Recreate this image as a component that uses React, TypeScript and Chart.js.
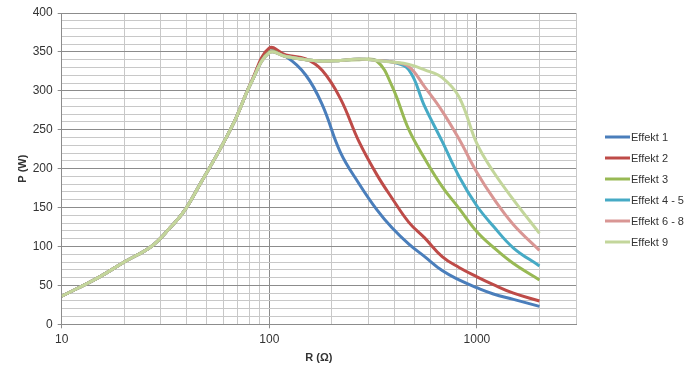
import React, { useEffect, useRef } from "react";
import { Chart, registerables } from "chart.js";

Chart.register(...registerables);

// Resistance values (Ω)
const resistance = [10, 15, 20, 27, 33, 39, 47, 56, 68, 82, 100, 120, 150, 180, 220, 270, 330, 390, 470, 560, 680, 820, 1000, 1200, 1500, 2000];

// Power values (W)
const effekt1 = [36, 60, 80, 100, 123, 146, 183, 218, 261, 311, 350, 344, 320, 282, 221, 181, 147, 124, 103, 87, 69, 57, 47, 39, 32, 23];
const effekt2 = [36, 60, 80, 100, 123, 146, 183, 218, 261, 312, 355, 346, 341, 326, 290, 235, 192, 162, 131, 111, 87, 73, 61, 51, 40, 30];
const effekt3 = [36, 60, 80, 100, 123, 146, 183, 218, 261, 311, 350, 344, 340, 338, 339, 340, 338, 306, 250, 213, 177, 149, 119, 99, 78, 57];
const effekt45 = [36, 60, 80, 100, 123, 146, 183, 218, 261, 311, 349, 344, 340, 338, 339, 341, 339, 337, 327, 280, 235, 190, 152, 126, 98, 75];
const effekt68 = [36, 60, 80, 100, 123, 146, 183, 218, 261, 311, 349, 344, 340, 338, 339, 341, 339, 337, 331, 305, 274, 238, 195, 162, 128, 95];
const effekt9 = [36, 60, 80, 100, 123, 146, 183, 218, 261, 311, 349, 344, 340, 338, 339, 341, 339, 337, 334, 327, 317, 292, 232, 196, 160, 117];

const seriesNames = ["Effekt 1", "Effekt 2", "Effekt 3", "Effekt 4 - 5", "Effekt 6 - 8", "Effekt 9"];
const seriesColors = ["#4A7EBB", "#BE4B48", "#98B954", "#46AAC5", "#D99694", "#C3D69B"];

// Axis ticks
const xGridValues = [10, 20, 30, 40, 50, 60, 70, 80, 90, 100, 200, 300, 400, 500, 600, 700, 800, 900, 1000, 2000, 3000];
const xLabels = [10, 100, 1000];
const yMin = 0;
const yMax = 400;
const yStep = 10;
const yLabelStep = 50;

const FONT = "'Liberation Sans', Arial, sans-serif";
const TEXT = "#333333";
const GRID_MINOR = "#c8c8c8";
const GRID_MAJOR = "#8c8c8c";

export default function App() {
  const ref = useRef<HTMLCanvasElement>(null);

  useEffect(() => {
    document.body.style.margin = "0";
    const canvas = ref.current!;
    const series = [effekt1, effekt2, effekt3, effekt45, effekt68, effekt9];

    const sideLegend = {
      id: "sideLegend",
      afterDraw(chart: any) {
        const c = chart.ctx;
        c.save();
        const x0 = 605;
        const y0 = 137;
        const gap = 21;
        seriesNames.forEach((name, i) => {
          const y = y0 + i * gap;
          c.strokeStyle = seriesColors[i];
          c.lineWidth = 3;
          c.beginPath();
          c.moveTo(x0, y);
          c.lineTo(x0 + 25, y);
          c.stroke();
          c.fillStyle = TEXT;
          c.font = `11px ${FONT}`;
          c.textBaseline = "middle";
          c.textAlign = "left";
          c.fillText(name, x0 + 26, y + 0.5);
        });
        c.restore();
      },
    };

    const chart = new Chart(canvas, {
      type: "line",
      data: {
        datasets: series.map((s, i) => ({
          label: seriesNames[i],
          data: resistance.map((r, j) => ({ x: r, y: s[j] })),
          borderColor: seriesColors[i],
          backgroundColor: seriesColors[i],
          borderWidth: 3,
          pointRadius: 0,
          tension: 0.4,
          fill: false,
          order: series.length - i,
        })),
      },
      options: {
        responsive: false,
        animation: false,
        layout: { padding: { left: 8, top: 13, right: 118, bottom: 8 } },
        plugins: { legend: { display: false }, tooltip: { enabled: false } },
        scales: {
          x: {
            type: "logarithmic",
            min: 10,
            max: 3000,
            afterBuildTicks: (scale: any) => {
              scale.ticks = xGridValues.map((v) => ({ value: v }));
            },
            afterFit: (scale: any) => {
              scale.height = 379 - 8 - 324.3;
            },
            ticks: {
              autoSkip: false,
              maxRotation: 0,
              minRotation: 0,
              padding: 4,
              color: TEXT,
              font: { family: FONT, size: 12 },
              callback: (v: any) => (xLabels.includes(Number(v)) ? String(v) : ""),
            },
            grid: {
              color: (ctx: any) => (ctx.tick && xLabels.includes(ctx.tick.value) ? GRID_MAJOR : GRID_MINOR),
              tickColor: (ctx: any) => (ctx.tick && xLabels.includes(ctx.tick.value) ? GRID_MAJOR : "rgba(0,0,0,0)"),
              tickLength: 4,
              lineWidth: 1,
            },
            border: { color: GRID_MAJOR },
            title: {
              display: true,
              text: "R (Ω)",
              color: TEXT,
              font: { family: FONT, size: 11, weight: "bold" },
              padding: { top: 0, bottom: 6.4 },
            },
          },
          y: {
            type: "linear",
            min: yMin,
            max: yMax,
            afterFit: (scale: any) => {
              scale.width = 61.7 - 8;
            },
            ticks: {
              stepSize: yStep,
              autoSkip: false,
              padding: 5,
              color: TEXT,
              font: { family: FONT, size: 12 },
              callback: (v: any) => (Number(v) % yLabelStep === 0 ? String(v) : ""),
            },
            grid: {
              color: (ctx: any) => (ctx.tick && ctx.tick.value % yLabelStep === 0 ? GRID_MAJOR : GRID_MINOR),
              tickColor: (ctx: any) => (ctx.tick && ctx.tick.value % yLabelStep === 0 ? GRID_MAJOR : "rgba(0,0,0,0)"),
              tickLength: 4,
              lineWidth: 1,
            },
            border: { color: GRID_MAJOR },
            title: {
              display: true,
              text: "P (W)",
              color: TEXT,
              font: { family: FONT, size: 11, weight: "bold" },
              padding: { top: 8.4, bottom: 0 },
            },
          },
        },
      },
      plugins: [sideLegend],
    } as any);

    return () => chart.destroy();
  }, []);

  return (
    <div style={{ width: 694, height: 379, background: "#ffffff" }}>
      <canvas ref={ref} width={694} height={379} style={{ display: "block" }} />
    </div>
  );
}
